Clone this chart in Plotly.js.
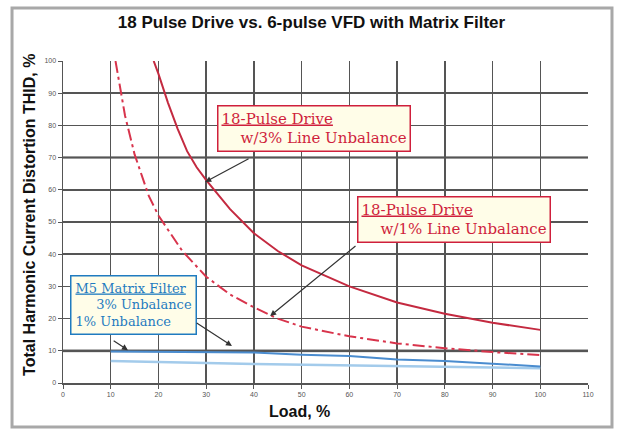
<!DOCTYPE html>
<html>
<head>
<meta charset="utf-8">
<script src="https://cdn.plot.ly/plotly-3.0.1.min.js"></script>
<style>
html,body{margin:0;padding:0;background:#fff;}
#chart{width:623px;height:434px;}
</style>
</head>
<body>
<div id="chart"></div>
<script>
// Data
const load3 = [19, 20, 22, 24, 26, 28, 30, 35, 40, 45, 50, 60, 70, 80, 90, 100];
const thd3  = [100, 96, 87, 79, 72, 67, 63, 54, 46.5, 41, 36.5, 30, 25, 21.5, 18.7, 16.5];

const load1 = [11, 12, 13, 15, 18, 20, 25, 30, 35, 40, 45, 50, 60, 70, 80, 90, 100];
const thd1  = [100, 91, 83, 71, 58, 52, 41, 33, 27.5, 23.5, 20, 17.5, 14.5, 12.3, 10.8, 9.6, 8.7];

const loadM = [10, 20, 30, 40, 50, 60, 70, 80, 90, 100];
const thdM3 = [9.8, 9.7, 9.6, 9.5, 8.8, 8.4, 7.3, 6.8, 6.0, 5.1];
const thdM1 = [6.8, 6.4, 6.2, 5.9, 5.7, 5.4, 5.2, 5.0, 4.8, 4.6];

const xTicks = [0, 10, 20, 30, 40, 50, 60, 70, 80, 90, 100, 110];
const yTicks = [0, 10, 20, 30, 40, 50, 60, 70, 80, 90, 100];

const titleText = "18 Pulse Drive vs. 6-pulse VFD with Matrix Filter";
const xTitle = "Load, %";
const yTitle = "Total Harmonic Current Distortion THID, %";

const narrow = "Liberation Sans Narrow, Arial Narrow, Liberation Sans, Arial, sans-serif";
const serif = "DejaVu Serif, Liberation Serif, serif";
const red = "#cf1f3c";
const blue = "#1f7bc0";
const nb = "\u00a0";

const traces = [
  {x: load3, y: thd3, mode: "lines", line: {color: "#c42a40", width: 2}, hoverinfo: "skip"},
  {x: load1, y: thd1, mode: "lines", line: {color: "#d8344c", width: 2, dash: "12px,4px,3px,4px"}, hoverinfo: "skip"},
  {x: loadM, y: thdM1, mode: "lines", line: {color: "#a3cbeb", width: 2.5}, hoverinfo: "skip"},
  {x: loadM, y: thdM3, mode: "lines", line: {color: "#4a8ccf", width: 2}, hoverinfo: "skip"}
];

function arrow(x0, y0, x1, y1) {
  return {x: x1, y: y1, ax: x0, ay: y0, xref: "x", yref: "y", axref: "x", ayref: "y",
          text: "", showarrow: true, arrowhead: 2, arrowsize: 1, arrowwidth: 1.2,
          arrowcolor: "#333", standoff: 0, startstandoff: 0};
}

const layout = {
  width: 623, height: 434,
  margin: {l: 63, r: 35, t: 61, b: 51},
  paper_bgcolor: "#fff", plot_bgcolor: "#fff",
  showlegend: false,
  title: {text: "<b>" + titleText + "</b>", x: 0.5, xref: "container", xanchor: "center",
          y: 0.949, yref: "container", yanchor: "middle",
          font: {family: narrow, size: 17, color: "#111"}},
  xaxis: {range: [0, 110], tickvals: xTicks, ticktext: xTicks.map(String),
          showgrid: true, gridcolor: "#555", gridwidth: 1.5,
          zeroline: false, showline: true, linecolor: "#555", linewidth: 1.5,
          ticks: "outside", ticklen: 4, tickcolor: "#555",
          tickfont: {family: narrow, size: 7, color: "#555"}, fixedrange: true},
  yaxis: {range: [0, 100], tickvals: yTicks, ticktext: yTicks.map(String),
          showgrid: true, gridcolor: "#555", gridwidth: 1.5,
          zeroline: false, showline: true, linecolor: "#555", linewidth: 1.5,
          ticks: "outside", ticklen: 4, tickcolor: "#555",
          tickfont: {family: narrow, size: 7, color: "#555"}, fixedrange: true},
  shapes: [
    {type: "rect", xref: "paper", yref: "paper", x0: -0.0971, x1: 1.0457, y0: -0.1366, y1: 1.1646,
     line: {color: "#a8a8a8", width: 3}, layer: "below"},
    {type: "line", xref: "paper", yref: "y", x0: 0, x1: 1, y0: 70, y1: 70,
     line: {color: "#999", width: 3}, layer: "between"},
    {type: "line", xref: "paper", yref: "y", x0: 0, x1: 1, y0: 10, y1: 10,
     line: {color: "#999", width: 3}, layer: "between"}
  ],
  annotations: [
    {xref: "paper", yref: "paper", x: 0.451, y: -0.09, xanchor: "center", yanchor: "middle",
     text: "<b>" + xTitle + "</b>", showarrow: false, font: {family: narrow, size: 16, color: "#111"}},
    {xref: "paper", yref: "paper", x: -0.0629, y: 0.522, xanchor: "center", yanchor: "middle",
     textangle: -90, text: "<b>" + yTitle + "</b>", showarrow: false,
     font: {family: narrow, size: 16, color: "#111"}},
    {xref: "x", yref: "y", x: 32.3, y: 86.3, xanchor: "left", yanchor: "top", align: "left",
     text: "<u>18-Pulse Drive</u><br>" + nb.repeat(4) + "w/3% Line Unbalance",
     showarrow: false, bgcolor: "#fffde8", bordercolor: red, borderwidth: 1.5, borderpad: 3,
     font: {family: serif, size: 15, color: red}},
    {xref: "x", yref: "y", x: 61.6, y: 58.1, xanchor: "left", yanchor: "top", align: "left",
     text: "<u>18-Pulse Drive</u><br>" + nb.repeat(4) + "w/1% Line Unbalance",
     showarrow: false, bgcolor: "#fffde8", bordercolor: red, borderwidth: 1.5, borderpad: 3,
     font: {family: serif, size: 15, color: red}},
    {xref: "x", yref: "y", x: 1.47, y: 33.5, xanchor: "left", yanchor: "top", align: "left",
     text: "<u>M5 Matrix Filter</u><br>" + nb.repeat(5) + "3% Unbalance<br>1% Unbalance",
     showarrow: false, bgcolor: "#fffde8", bordercolor: blue, borderwidth: 1.5, borderpad: 4,
     font: {family: serif, size: 13, color: blue}},
    arrow(39.2, 69.9, 29.8, 62.4),
    arrow(61.6, 42.9, 43.4, 20.8),
    arrow(27.7, 18.9, 35.4, 11.5),
    arrow(10.3, 13.4, 13.6, 10.2)
  ]
};

Plotly.newPlot("chart", traces, layout, {staticPlot: true, displayModeBar: false});
</script>
</body>
</html>
